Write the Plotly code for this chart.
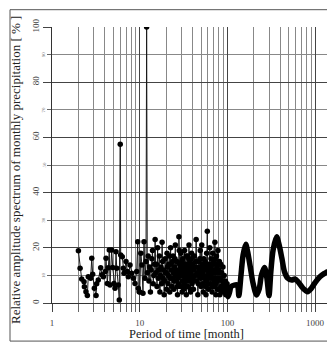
import plotly.graph_objects as go

# ---- data (period in months, relative amplitude in %) ----
period_a = [2.00, 2.09, 2.18, 2.32, 2.34, 2.44, 2.53, 2.59, 2.76, 2.84, 2.91, 3.04, 3.18, 3.23, 3.37,
            3.59, 3.72, 3.85, 4.05, 4.13, 4.27, 4.39, 4.50, 4.59, 4.79, 4.92, 5.09, 5.23, 5.37, 5.47,
            5.70, 5.85, 6.00, 6.07, 6.33, 6.50, 6.62, 6.98, 7.22, 7.41, 7.75, 8.11, 8.45, 8.84, 9.24,
            9.49, 9.64, 9.85]
amp_a = [18.9, 12.6, 8.7, 7.7, 5.9, 4.1, 2.7, 9.5, 9.0, 16.2, 10.4, 5.3, 2.7, 7.0, 8.3,
         12.8, 10.2, 9.5, 11.4, 16.2, 7.1, 12.8, 19.2, 6.5, 19.2, 12.9, 7.1, 5.3, 18.6, 12.6,
         6.5, 1.1, 57.5, 17.4, 16.8, 12.6, 10.8, 15.0, 11.4, 9.5, 13.8, 10.8, 9.0, 7.1, 11.4,
         22.2, 5.3, 4.1]

period_b = [10.0, 10.3, 10.6, 10.9, 11.2, 11.5, 11.8, 12.0, 12.2,
            12.5, 12.75, 13.0, 13.25, 13.5, 13.75, 14.0, 14.25, 14.5, 14.75,
            15.0, 15.25, 15.5, 15.75, 16.0, 16.25, 16.5, 16.75, 17.0, 17.25,
            17.5, 17.75, 18.0, 18.25, 18.5, 18.75, 19.0, 19.25, 19.5, 19.75,
            20.0, 20.25, 20.5, 20.75, 21.0, 21.25, 21.5, 21.75, 22.0, 22.25,
            22.5, 22.75, 23.0, 23.25, 23.5, 23.75, 24.0, 24.25, 24.5, 24.75,
            25.0, 25.25, 25.5, 25.75, 26.0, 26.25, 26.5, 26.75, 27.0, 27.25,
            27.5, 27.75, 28.0, 28.25, 28.5, 28.75, 29.0, 29.25, 29.5, 29.75,
            30.0, 30.25, 30.5, 30.75, 31.0, 31.25, 31.5, 31.75, 32.0, 32.25,
            32.5, 32.75, 33.0, 33.25, 33.5, 33.75, 34.0, 34.25, 34.5, 34.75,
            35.0, 35.25, 35.5, 35.75, 36.0, 36.25, 36.5, 36.75, 37.0, 37.25,
            37.5, 37.75, 38.0, 38.25, 38.5, 38.75, 39.0, 39.25, 39.5, 39.75]
amp_b = [4.0, 18.0, 13.8, 3.5, 22.2, 9.0, 15.0, 100.0, 11.0,
         17, 8, 13, 4, 12, 16, 19, 7, 10, 14,
         23, 11, 14, 6, 20, 9, 12, 17, 4, 10,
         13, 7, 22, 15, 9, 12, 3, 8, 16, 11,
         11, 5, 18, 13, 7, 10, 14, 17, 4, 9,
         20, 14, 12, 6, 9, 15, 17, 11, 5, 8,
         13, 16, 21, 10, 8, 12, 15, 6, 3, 9,
         11, 7, 24, 19, 14, 10, 6, 13, 18, 12,
         10, 15, 4, 8, 16, 11, 12, 5, 7, 14,
         19, 13, 9, 6, 14, 17, 3, 10, 11, 8,
         17, 12, 6, 10, 13, 16, 21, 9, 8, 14,
         15, 5, 4, 11, 12, 16, 18, 10, 7, 13]

period_c = [40.0, 40.5, 41.0, 41.5, 42.0, 42.5, 43.0, 43.5, 44.0, 44.5,
            45.0, 45.5, 46.0, 46.5, 47.0, 47.5, 48.0, 48.5, 49.0, 49.5,
            50.0, 50.5, 51.0, 51.5, 52.0, 52.5, 53.0, 53.5, 54.0, 54.5,
            55.0, 55.5, 56.0, 56.5, 57.0, 57.5, 58.0, 58.5, 59.0, 59.5,
            60.0, 60.5, 61.0, 61.5, 62.0, 62.5, 63.0, 63.5, 64.0, 64.5,
            65.0, 65.5, 66.0, 66.5, 67.0, 67.5, 68.0, 68.5, 69.0, 69.5,
            70.0, 70.5, 71.0, 71.5, 72.0, 72.5, 73.0, 73.5, 74.0, 74.5,
            75.0, 75.5, 76.0, 76.5, 77.0, 77.5, 78.0, 78.5, 79.0, 79.5,
            80, 81, 82, 83, 84, 85, 86, 87, 88, 89,
            90, 91, 92, 93, 94, 95, 96, 97, 98, 99]
amp_c = [14, 9, 5, 12, 17, 8, 10, 15, 23, 13,
         8, 11, 3, 7, 15, 10, 12, 16, 19, 9,
         6, 13, 21, 14, 11, 7, 4, 10, 16, 12,
         9, 15, 13, 6, 3, 8, 18, 12, 26, 14,
         10, 7, 5, 11, 14, 9, 20, 13, 7, 10,
         16, 11, 12, 6, 4, 9, 18, 14, 9, 12,
         15, 8, 6, 11, 22, 16, 11, 7, 3, 9,
         17, 12, 13, 5, 8, 14, 19, 11, 5, 9,
         12, 15, 3, 9, 14, 6, 11, 4, 8, 13,
         5, 7, 10, 4, 6, 8, 3, 6, 5, 7]

period_long = [95, 100, 102, 106, 110, 120, 130, 135, 143, 151, 162, 170, 182, 196, 215, 230, 245,
               265, 282, 298, 313, 332, 364, 389, 418, 447, 486, 541, 588, 644, 735, 820, 900,
               1000, 1135, 1290, 1400]
amp_long = [6.0, 4.0, 2.3, 4.0, 5.9, 6.5, 6.5, 2.7, 10.2, 17.4, 21.3, 18.6, 13.2, 7.2, 2.9, 5.0, 10.2,
            12.9, 9.0, 2.7, 11.4, 19.2, 24.0, 21.0, 16.2, 11.4, 9.0, 8.3, 8.7, 7.6, 5.2, 4.1, 5.2,
            7.4, 9.5, 10.8, 11.5]

x_tickvals = [1, 10, 100, 1000]
x_ticktext = ["1", "10", "100", "1000"]
x_minorvals = [2, 3, 4, 5, 6, 7, 8, 9, 20, 30, 40, 50, 60, 70, 80, 90,
               200, 300, 400, 500, 600, 700, 800, 900]
y_major = [0, 20, 40, 60, 80, 100]
y_minor_labels = [10, 30, 50, 70, 90]

FONT = "Liberation Serif"

fig = go.Figure()
fig.add_trace(go.Scatter(
    x=period_a + period_b + period_c, y=amp_a + amp_b + amp_c,
    mode="lines+markers",
    line=dict(color="#1a1a1a", width=1),
    marker=dict(color="black", size=5.5),
    showlegend=False, hoverinfo="skip"))
fig.add_trace(go.Scatter(
    x=period_long, y=amp_long, mode="lines",
    line=dict(color="black", width=5.5, shape="spline", smoothing=0.8),
    showlegend=False, hoverinfo="skip"))

fig.update_layout(
    width=327, height=344,
    margin=dict(l=52, r=0, t=27, b=41),
    paper_bgcolor="white", plot_bgcolor="white",
    font=dict(family=FONT, color="#333"),
    xaxis=dict(
        type="log", range=[0, 3.1357],
        tickmode="array", tickvals=x_tickvals, ticktext=x_ticktext,
        ticks="outside", ticklen=8, tickcolor="#444", tickwidth=1,
        tickfont=dict(size=9, color="#444", family=FONT),
        ticklabelstandoff=3,
        showgrid=True, gridcolor="#444", gridwidth=1,
        minor=dict(tickmode="array", tickvals=x_minorvals, ticks="outside", ticklen=8,
                   tickcolor="#666", showgrid=True, gridcolor="#888", gridwidth=1),
        showline=True, linecolor="#333", linewidth=1, zeroline=False,
    ),
    yaxis=dict(
        range=[0, 100],
        tickmode="array", tickvals=y_major, ticktext=[str(v) for v in y_major],
        tickangle=-90,
        ticks="outside", ticklen=8, tickcolor="#444", tickwidth=1,
        tickfont=dict(size=9, color="#444", family=FONT),
        showgrid=True, gridcolor="#444", gridwidth=1,
        minor=dict(dtick=10, ticks="outside", ticklen=4, tickcolor="#666",
                   showgrid=True, gridcolor="#888", gridwidth=1),
        showline=True, linecolor="#333", linewidth=1, zeroline=False,
    ),
)

annotations = []
for v in y_minor_labels:
    annotations.append(dict(x=-0.047, y=v, xref="paper", yref="y", text=str(v),
                            showarrow=False, textangle=-90,
                            font=dict(size=5, color="#777", family=FONT)))
annotations.append(dict(x=0.489, y=-0.112, xref="paper", yref="paper",
                        text="Period of time [month]", showarrow=False,
                        xanchor="center", yanchor="middle",
                        font=dict(size=12.5, color="#222", family=FONT)))
annotations.append(dict(x=-0.131, y=0.482, xref="paper", yref="paper",
                        text="Relative amplitude spectrum of monthly precipitation [ % ]",
                        showarrow=False, textangle=-90, xanchor="center", yanchor="middle",
                        font=dict(size=13, color="#222", family=FONT)))
fig.update_layout(annotations=annotations)

fig.add_shape(type="rect", xref="paper", yref="paper",
              x0=-0.1527, x1=1.1, y0=-0.138, y1=1.0627,
              line=dict(color="#555", width=1), fillcolor="rgba(0,0,0,0)", layer="below")

fig.write_html("out.html")
